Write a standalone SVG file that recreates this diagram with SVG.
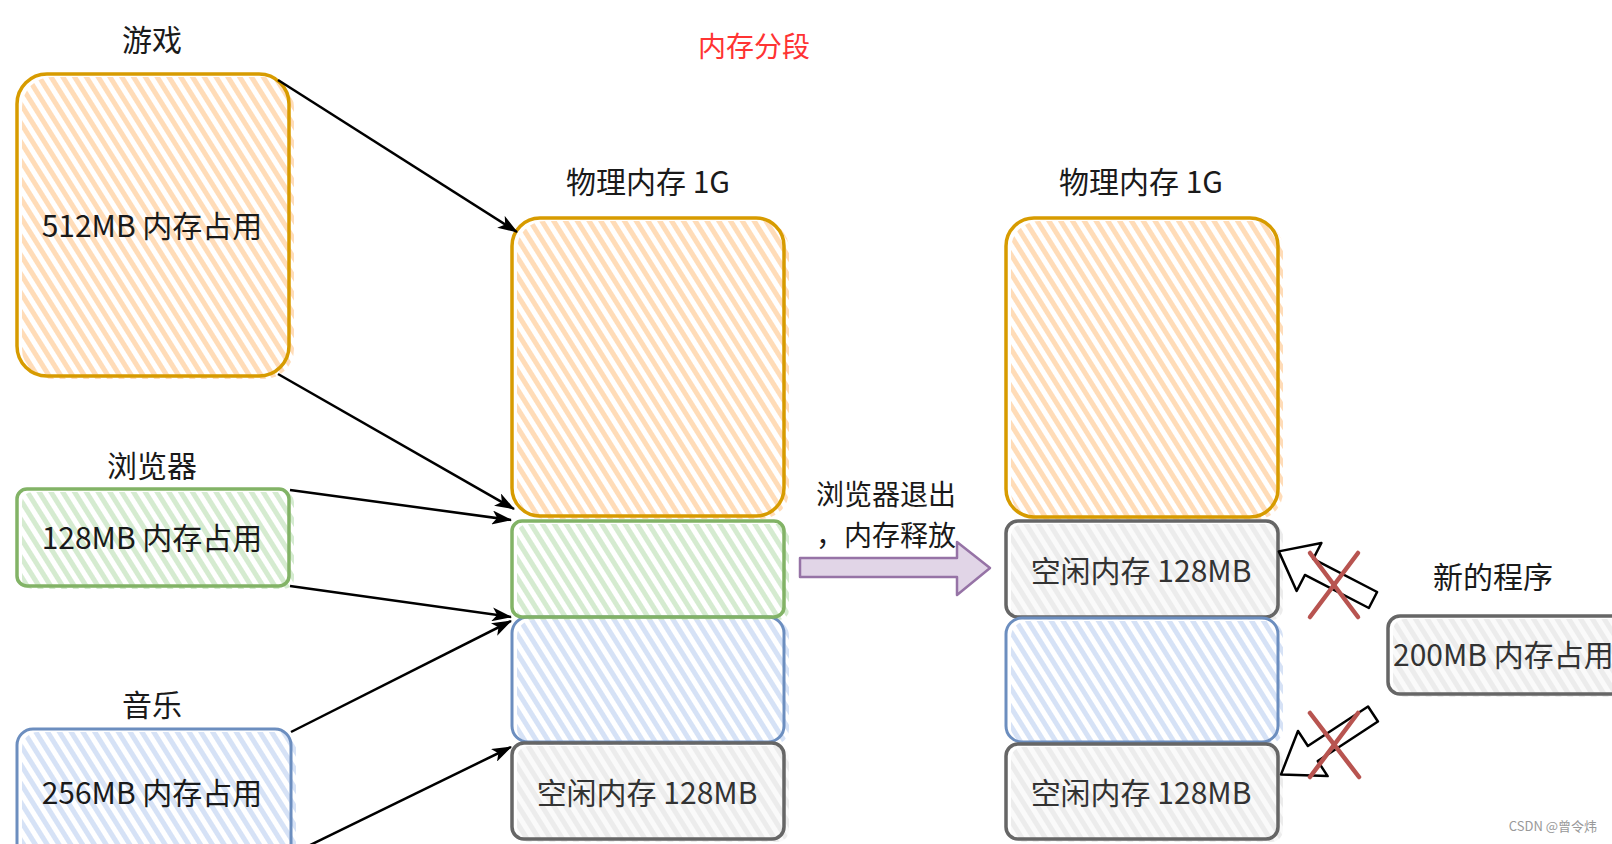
<svg xmlns="http://www.w3.org/2000/svg" width="1612" height="844" viewBox="0 0 1612 844">
<defs>
<pattern id="hO" width="10" height="10" patternUnits="userSpaceOnUse" patternTransform="rotate(-32)"><rect width="10" height="10" fill="#ffffff"/><rect width="5" height="10" fill="#ffdcb8"/></pattern>
<pattern id="hG" width="10" height="10" patternUnits="userSpaceOnUse" patternTransform="rotate(-32)"><rect width="10" height="10" fill="#ffffff"/><rect width="5" height="10" fill="#d5ebd0"/></pattern>
<pattern id="hB" width="10" height="10" patternUnits="userSpaceOnUse" patternTransform="rotate(-32)"><rect width="10" height="10" fill="#ffffff"/><rect width="5" height="10" fill="#d6e2f6"/></pattern>
<pattern id="hY" width="10" height="10" patternUnits="userSpaceOnUse" patternTransform="rotate(-32)"><rect width="10" height="10" fill="#fafafa"/><rect width="5" height="10" fill="#ececec"/></pattern>
<marker id="ah" viewBox="0 0 20 14" refX="19" refY="7" markerWidth="20" markerHeight="14" markerUnits="userSpaceOnUse" orient="auto"><path d="M0,0 L20,7 L0,14 L5,7 Z" fill="#000"/></marker>
</defs>
<style>
.t{font-family:"Noto Sans CJK SC","Noto Sans",sans-serif;font-size:30px;fill:#1a1a1a;text-anchor:middle}
.g{fill:#333333}
.so{fill:none;stroke:#d79b00;stroke-width:3.5}
.sg{fill:none;stroke:#82b366;stroke-width:3.5}
.sb{fill:none;stroke:#6c8ebf;stroke-width:3}
.sy{fill:none;stroke:#666666;stroke-width:3.5}
.c{stroke:#000;stroke-width:2.5;fill:none;marker-end:url(#ah)}
.x{stroke:#b85450;stroke-width:4.5;stroke-linecap:round}
</style>
<rect width="1612" height="844" fill="#ffffff"/>

<text class="t" x="754" y="57" style="fill:#ff3333;font-size:28px">内存分段</text>

<g id="game">
<text class="t" x="152" y="51">游戏</text>
<rect x="22" y="77" width="272" height="302" rx="30" fill="url(#hO)"/>
<rect class="so" x="17" y="74" width="272" height="302" rx="30"/>
<text class="t" x="152" y="237">512MB 内存占用</text>
</g>

<g id="browser">
<text class="t" x="152" y="477">浏览器</text>
<rect x="22" y="492" width="272" height="97" rx="10" fill="url(#hG)"/>
<rect class="sg" x="17" y="489" width="272" height="97" rx="10"/>
<text class="t" x="152" y="549">128MB 内存占用</text>
</g>

<g id="music">
<text class="t" x="152" y="716">音乐</text>
<rect x="22" y="732" width="274" height="140" rx="16" fill="url(#hB)"/>
<rect class="sb" x="17" y="729" width="274" height="140" rx="16"/>
<text class="t" x="152" y="804">256MB 内存占用</text>
</g>

<g id="mem1">
<text class="t" x="648" y="193">物理内存 1G</text>
<rect x="517" y="221" width="272" height="298" rx="28" fill="url(#hO)"/>
<rect class="so" x="512" y="218" width="272" height="298" rx="28"/>
<rect x="517" y="524" width="272" height="96" rx="10" fill="url(#hG)"/>
<rect x="517" y="620" width="272" height="125" rx="16" fill="url(#hB)"/>
<rect class="sb" x="512" y="617" width="272" height="125" rx="16"/>
<rect class="sg" x="512" y="521" width="272" height="96" rx="10"/>
<rect x="517" y="746" width="272" height="96" rx="12" fill="url(#hY)"/>
<rect class="sy" x="512" y="743" width="272" height="96" rx="12"/>
<text class="t g" x="647" y="804">空闲内存 128MB</text>
</g>

<g id="mem2">
<text class="t" x="1141" y="193">物理内存 1G</text>
<rect x="1011" y="221" width="272" height="299" rx="28" fill="url(#hO)"/>
<rect class="so" x="1006" y="218" width="272" height="299" rx="28"/>
<rect x="1011" y="524" width="272" height="96" rx="12" fill="url(#hY)"/>
<rect class="sy" x="1006" y="521" width="272" height="96" rx="12"/>
<text class="t g" x="1141" y="582">空闲内存 128MB</text>
<rect x="1011" y="621" width="272" height="124" rx="16" fill="url(#hB)"/>
<rect class="sb" x="1006" y="618" width="272" height="124" rx="16"/>
<rect x="1011" y="747" width="272" height="95" rx="12" fill="url(#hY)"/>
<rect class="sy" x="1006" y="744" width="272" height="95" rx="12"/>
<text class="t g" x="1141" y="804">空闲内存 128MB</text>
</g>

<g id="release">
<text class="t" x="886" y="505" style="font-size:28px">浏览器退出</text>
<text class="t" x="886" y="546" style="font-size:28px">，内存释放</text>
<path d="M800,558 L957,558 L957,542 L990,568 L957,595 L957,577 L800,577 Z" fill="#e1d5e7" stroke="#9673a6" stroke-width="2.5" stroke-linejoin="round"/>
</g>

<g id="newprog">
<text class="t" x="1493" y="588">新的程序</text>
<rect x="1393" y="619" width="260" height="78" rx="12" fill="url(#hY)"/>
<rect class="sy" x="1388" y="616" width="260" height="78" rx="12"/>
<text class="t g" x="1393" y="666" style="text-anchor:start">200MB 内存占用</text>
</g>

<g id="tries">
<polygon points="0,-9 72,-9 72,-27 106,0 72,27 72,9 0,9" transform="translate(1373,600) rotate(-152.7)" fill="#ffffff" stroke="#000" stroke-width="2.5" stroke-linejoin="round"/>
<polygon points="0,-9 72,-9 72,-27 110,0 72,27 72,9 0,9" transform="translate(1373,714) rotate(146.7)" fill="#ffffff" stroke="#000" stroke-width="2.5" stroke-linejoin="round"/>
<line class="x" x1="1310" y1="553" x2="1358" y2="617"/>
<line class="x" x1="1358" y1="553" x2="1310" y2="617"/>
<line class="x" x1="1310" y1="713" x2="1359" y2="777"/>
<line class="x" x1="1358" y1="713" x2="1310" y2="777"/>
</g>

<g id="connectors">
<line class="c" x1="278" y1="80" x2="517" y2="232"/>
<line class="c" x1="278" y1="374" x2="514" y2="509"/>
<line class="c" x1="290" y1="490" x2="511" y2="520"/>
<line class="c" x1="290" y1="586" x2="511" y2="617"/>
<line class="c" x1="291" y1="732" x2="511" y2="621"/>
<line class="c" x1="300" y1="850" x2="511" y2="747"/>
</g>

<text x="1597" y="831" style="font-family:'Noto Sans CJK SC','Noto Sans',sans-serif;font-size:13px;fill:#999999;text-anchor:end">CSDN @曾令炜</text>
</svg>
